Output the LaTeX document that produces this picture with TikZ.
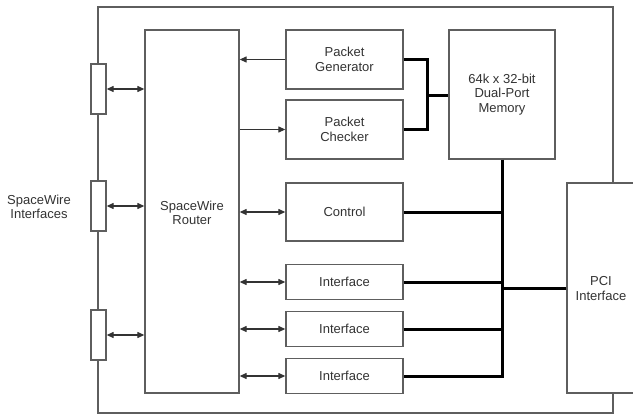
\documentclass[tikz,border=0pt]{standalone}
\usepackage{fontspec}
\setmainfont{Liberation Sans}
\usetikzlibrary{arrows.meta}
\definecolor{edge}{HTML}{5E5E5E}
\definecolor{txt}{HTML}{333333}
\tikzset{
  box/.style={draw=edge, line width=1.3pt, fill=white, inner sep=0pt, align=center,
    text=txt, font=\fontsize{13}{14.5}\selectfont},
  port/.style={draw=edge, line width=1.3pt, fill=white, inner sep=0pt, minimum width=15, minimum height=50},
  thin/.style={draw=edge, line width=1.2pt},
  link/.style={draw=black!80, line width=1.2pt, {Triangle[length=7pt,width=6pt]}-{Triangle[length=7pt,width=6pt]}},
  onearrow/.style={draw=black!80, line width=1.2pt, -{Triangle[length=7pt,width=6pt]}},
  bus/.style={draw=black, line width=3pt, line join=miter},
  lbl/.style={text=txt, align=center, font=\fontsize{13}{14.5}\selectfont, inner sep=0pt}
}
\begin{document}
\begin{tikzpicture}[x=1pt,y=-1pt]
\useasboundingbox (0,0) rectangle (633,416);
\clip (0,0) rectangle (633,416);
\fill[white] (0,0) rectangle (633,416);
% outer frame
\draw[thin] (98,7) rectangle (613,413);
% SpaceWire ports
\node[port] (si1) at (98.5,89) {};
\node[port] (si2) at (98.5,206) {};
\node[port] (si3) at (98.5,335) {};
\node[lbl] (silbl) at (39,207) {SpaceWire\\Interfaces};
% boxes
\node[box, minimum width=94, minimum height=363] (router) at (192,211.5) {};
\node[lbl] (routerlbl) at (192,213) {SpaceWire\\Router};
\node[box, minimum width=117, minimum height=59] (pg) at (344.5,59.5) {Packet\\Generator};
\node[box, minimum width=117, minimum height=59] (pc) at (344.5,129.5) {Packet\\Checker};
\node[box, minimum width=106, minimum height=129] (mem) at (502,94.5) {64k x 32-bit\\Dual-Port\\Memory};
\node[box, minimum width=117, minimum height=58] (ctrl) at (344.5,212) {Control};
\node[box, minimum width=117, minimum height=35] (if1) at (344.5,282) {Interface};
\node[box, minimum width=117, minimum height=35] (if2) at (344.5,329) {Interface};
\node[box, minimum width=117, minimum height=35] (if3) at (344.5,376) {Interface};
\node[box, minimum width=78, minimum height=210] (pci) at (606,288) {};
\node[lbl] (pcilbl) at (601,288.5) {PCI\\Interface};
% port links
\draw[link] (si1.east) -- (si1.east -| router.west);
\draw[link] (si2.east) -- (si2.east -| router.west);
\draw[link] (si3.east) -- (si3.east -| router.west);
% router links
\draw[onearrow] (pg.west) -- (pg.west -| router.east);
\draw[onearrow] (pc.west -| router.east) -- (pc.west);
\draw[link] (ctrl.west -| router.east) -- (ctrl.west);
\draw[link] (if1.west -| router.east) -- (if1.west);
\draw[link] (if2.west -| router.east) -- (if2.west);
\draw[link] (if3.west -| router.east) -- (if3.west);
% buses
\coordinate (j1) at (427,95);
\draw[bus] (pg.east) -| (j1) |- (pc.east);
\draw[bus] (j1) -- (j1 -| mem.west);
\coordinate (bb) at (mem.south |- if3.east);
\draw[bus] (mem.south) -- (bb) -- (if3.east);
\draw[bus] (ctrl.east) -- (ctrl.east -| mem.south);
\draw[bus] (if1.east) -- (if1.east -| mem.south);
\draw[bus] (if2.east) -- (if2.east -| mem.south);
\draw[bus] (pci.west) -- (pci.west -| mem.south);
\end{tikzpicture}
\end{document}
